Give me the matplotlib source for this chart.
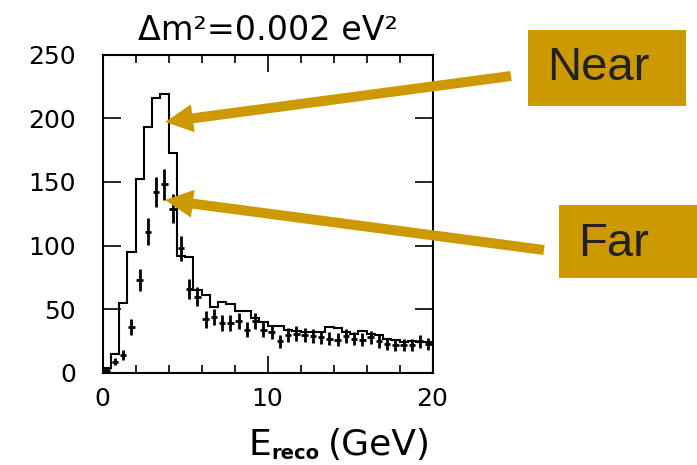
import matplotlib
matplotlib.use("Agg")
import matplotlib.pyplot as plt
import numpy as np
from matplotlib.patches import FancyArrow, Rectangle
from matplotlib.ticker import MultipleLocator

# Near detector prediction, 0.5 GeV bins from 0 to 20 GeV
near = [4, 15, 55, 95, 152, 193, 216, 219, 173, 92,
        91, 65, 61, 52, 56, 54, 49, 49, 43, 40,
        37, 37, 34, 33, 32, 32, 32, 36, 35, 32,
        31, 33, 31, 30, 27, 26, 24, 25, 24, 24]
# Far detector points at bin centres
far = [2, 9, 14, 36, 73, 111, 142, 148, 129, 98,
       66, 60, 42, 44, 39, 39, 41, 34, 41, 34,
       32, 25, 30, 31, 30, 29, 28, 27, 26, 29,
       27, 26, 28, 25, 23, 22, 22, 22, 25, 23]
far_err = [1.4, 3.0, 3.7, 6.0, 8.5, 10.5, 11.9, 12.2, 11.4, 9.9,
           8.1, 7.7, 6.5, 6.6, 6.2, 6.2, 6.4, 5.8, 6.4, 5.8,
           5.7, 5.0, 5.5, 5.6, 5.5, 5.4, 5.3, 5.2, 5.1, 5.4,
           5.2, 5.1, 5.3, 5.0, 4.8, 4.7, 4.7, 4.7, 5.0, 4.8]
bin_width = 0.5

GOLD = "#CC9900"
W, H = 697, 465

edges = np.arange(len(near) + 1) * bin_width
centres = edges[:-1] + bin_width / 2

fig = plt.figure(figsize=(W / 100, H / 100), dpi=100)
ax = fig.add_axes([102.5 / W, 1 - 373 / H, 330 / W, 318.5 / H])

ax.stairs(near, edges, color="black", lw=1.5)
ax.errorbar(centres, far, yerr=far_err, xerr=0.2, fmt="none",
            ecolor="black", elinewidth=2)

ax.set_xlim(0, 20)
ax.set_ylim(0, 250)
ax.xaxis.set_major_locator(MultipleLocator(10))
ax.xaxis.set_minor_locator(MultipleLocator(2))
ax.yaxis.set_major_locator(MultipleLocator(50))
ax.tick_params(which="both", direction="in", top=True, right=True,
               labelsize=18, width=1.2)
ax.tick_params(axis="x", which="major", length=12, pad=10)
ax.tick_params(axis="x", which="minor", length=6)
ax.tick_params(axis="y", which="major", length=13, pad=19)
for sp in ax.spines.values():
    sp.set_linewidth(1.5)

fig.text(268 / W, 1 - 30 / H, "Δm²=0.002 eV²", ha="center", va="center",
         fontsize=24)

# x label built from pieces so the subscript can stay small and bold
fig.text(248 / W, 1 - 455 / H, "E", ha="left", va="baseline", fontsize=26)
fig.text(271 / W, 1 - 459 / H, "reco", ha="left", va="baseline",
         fontsize=14, fontweight="bold")
fig.text(431 / W, 1 - 455 / H, "(GeV)", ha="right", va="baseline",
         fontsize=26)


def px(x, y):
    return x / 100, (H - y) / 100


# label boxes
for (x0, y0, x1, y1), (tx, ty), label in [
        ((528, 30, 686, 106), (598, 68), "Near"),
        ((559, 205, 697, 278), (614, 244), "Far")]:
    bx, by = px(x0, y1)
    fig.patches.append(Rectangle((bx, by), (x1 - x0) / 100, (y1 - y0) / 100,
                                 transform=fig.dpi_scale_trans,
                                 facecolor=GOLD, edgecolor="none"))
    fig.text(tx / W, 1 - ty / H, label, ha="center", va="center",
             fontsize=34, color="#222222", family="Liberation Sans")

# arrows
for (x0, y0), (x1, y1) in [((511, 76), (165, 122)),
                           ((544, 250), (165, 200))]:
    sx, sy = px(x0, y0)
    ex, ey = px(x1, y1)
    fig.patches.append(FancyArrow(sx, sy, ex - sx, ey - sy, width=0.1,
                                  head_width=0.28, head_length=0.28,
                                  length_includes_head=True,
                                  transform=fig.dpi_scale_trans,
                                  color=GOLD, lw=0))

fig.savefig("out.png", dpi=100)
